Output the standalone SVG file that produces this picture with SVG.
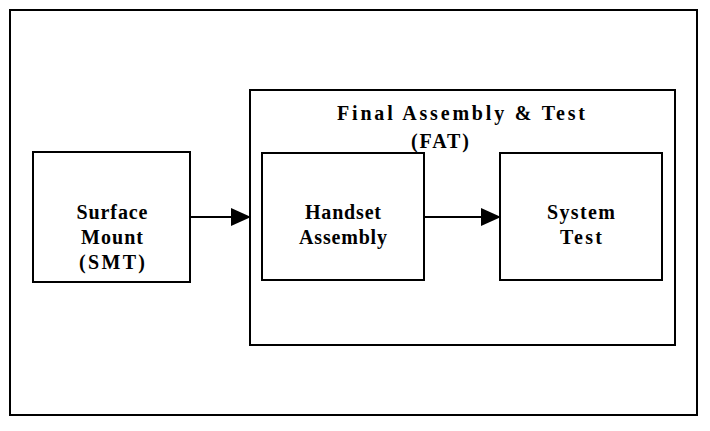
<svg xmlns="http://www.w3.org/2000/svg" width="710" height="431" viewBox="0 0 710 431">
<style>
.b{fill:#fff;stroke:#000;stroke-width:2}
.t{font-family:"Liberation Serif",serif;font-weight:bold;font-size:20px;text-anchor:middle;fill:#000}
.c{stroke:#000;stroke-width:2;fill:none}
</style>
<defs><marker id="a" markerWidth="20" markerHeight="18" refX="19" refY="9" orient="auto" markerUnits="userSpaceOnUse"><path d="M0,0L20,9L0,18z" fill="#000"/></marker></defs>
<rect width="710" height="431" fill="#fff"/>
<rect x="10" y="10" width="687" height="405" class="b"/>
<g id="fat"><rect x="250" y="90" width="425" height="255" class="b"/>
<text x="461" y="120" class="t" font-size="23" textLength="248" lengthAdjust="spacing">Final Assembly &amp; Test</text>
<text x="440" y="148" class="t" font-size="23" textLength="58" lengthAdjust="spacing">(FAT)</text></g>
<g id="smt"><rect x="33" y="152" width="157" height="130" class="b"/>
<text x="112" y="219" class="t" textLength="71" lengthAdjust="spacing">Surface</text><text x="112" y="244" class="t" textLength="62" lengthAdjust="spacing">Mount</text><text x="112" y="269" class="t" textLength="66" lengthAdjust="spacing">(SMT)</text></g>
<g id="handset"><rect x="262" y="153" width="162" height="127" class="b"/>
<text x="343" y="219" class="t" textLength="76" lengthAdjust="spacing">Handset</text><text x="343" y="244" class="t" textLength="88" lengthAdjust="spacing">Assembly</text></g>
<g id="systest"><rect x="500" y="153" width="162" height="127" class="b"/>
<text x="581" y="219" class="t" textLength="68" lengthAdjust="spacing">System</text><text x="581" y="244" class="t" textLength="42" lengthAdjust="spacing">Test</text></g>
<g id="connectors">
<line x1="190" y1="217" x2="250" y2="217" class="c" marker-end="url(#a)"/>
<line x1="424" y1="217" x2="500" y2="217" class="c" marker-end="url(#a)"/>
</g>
</svg>
